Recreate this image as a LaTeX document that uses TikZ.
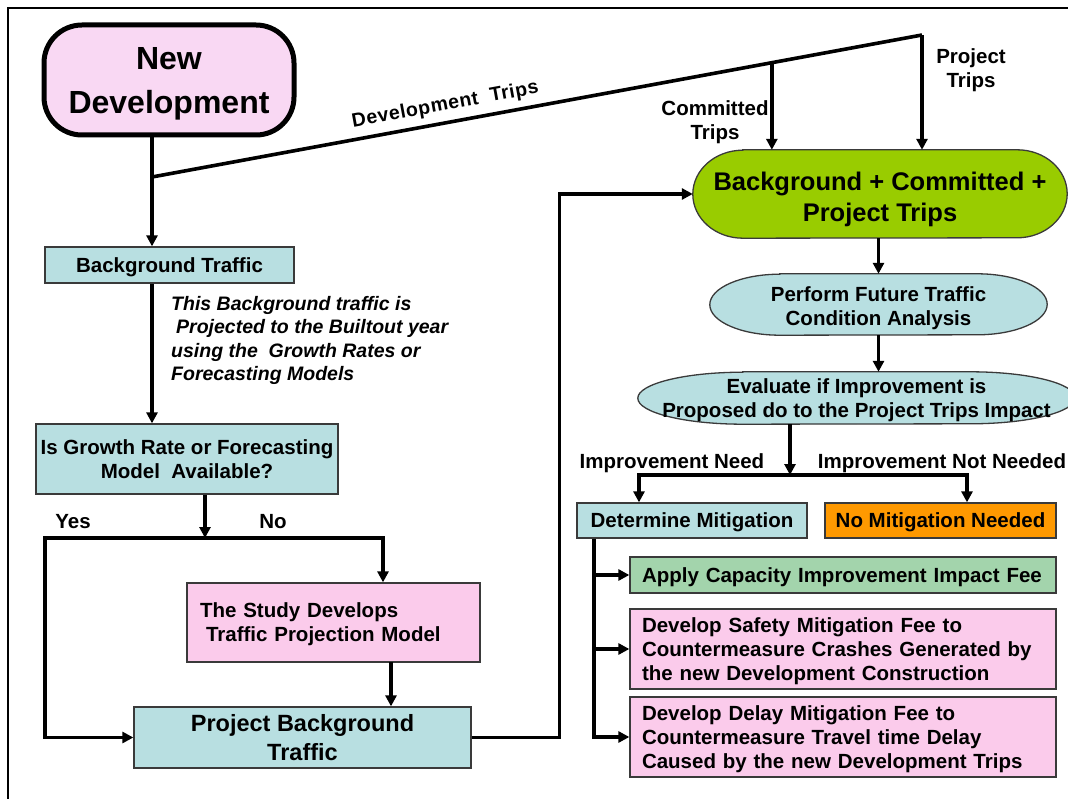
\documentclass[tikz,border=0pt]{standalone}
\usepackage{fontspec}
\setmainfont{Liberation Sans}
\usetikzlibrary{arrows.meta,calc}
\pgfdeclarelayer{bg}
\pgfsetlayers{bg,main}
\definecolor{tealf}{HTML}{B8DFE1}
\definecolor{pinkn}{HTML}{F9D8F3}
\definecolor{pinkb}{HTML}{FBCBEB}
\definecolor{greena}{HTML}{A3D4AC}
\definecolor{greenn}{HTML}{99CC00}
\definecolor{orangef}{HTML}{FF9900}
\definecolor{edge}{HTML}{3A3A3A}
\tikzset{
  one/.style={text height=19.8pt, text depth=5.1pt},
  two/.style={text height=43.8pt, text depth=5.1pt},
  twow/.style={text height=19.8pt, text depth=29.1pt},
  threew/.style={text height=19.8pt, text depth=53.1pt},
  txt/.style={font=\bfseries\fontsize{20.5}{24}\selectfont},
  rbox/.style={txt, draw=edge, line width=1.3pt, inner sep=0pt, align=center},
  lbox/.style={rbox, align=left, inner xsep=12pt, text width=402pt},
  plain/.style={txt, inner sep=0pt, align=center},
  shapeline/.style={draw=edge, line width=1.3pt},
  conn/.style={line width=3.6pt},
  arr/.style={conn, -{Triangle[length=11pt,width=11pt]}},
}
\begin{document}
\begin{tikzpicture}[x=1pt,y=-1pt]
\useasboundingbox (0,0) rectangle (1068,799);
% frame
\draw[line width=2pt] (8,799) -- (8,8) -- (1068,8);

% ---- nodes
\node[rbox, fill=pinkn, draw=black, line width=5pt, rounded corners=38pt,
      minimum width=250pt, minimum height=110pt, text height=74.9pt, text depth=8pt,
      font=\bfseries\fontsize{32}{44}\selectfont] (nd) at (169,80) {New\\Development};
\node[rbox, one, fill=tealf, minimum width=249pt, minimum height=36pt] (bt) at (169.5,265) {Background Traffic};
\node[anchor=north west, inner sep=0pt, align=left, text height=88.7pt, text depth=4.9pt,
      font=\bfseries\itshape\fontsize{19.5}{23.3}\selectfont] (note) at (171,291.5)
  {This Background traffic is\\\hspace{5pt}Projected to the Builtout year\\using the\ \ Growth Rates or\\Forecasting Models};
\node[rbox, two, fill=tealf, minimum width=302pt, minimum height=70pt] (ig) at (187,459) {Is Growth Rate or Forecasting\\Model\ \ Available?};
\node[rbox, twow, fill=pinkb, minimum height=79pt, align=left, inner xsep=13pt, text width=267pt] (study) at (333.5,622.5)
  {The Study Develops\\\hspace{6pt}Traffic Projection Model};
\node[rbox, fill=tealf, minimum width=337pt, minimum height=61pt, text height=51.7pt, text depth=5.9pt,
      font=\bfseries\fontsize{23.5}{29}\selectfont] (pbt) at (302.5,737.5) {Project Background\\Traffic};
\node[plain, one] (yes) at (73,521) {Yes};
\node[plain, one] (no) at (273,521) {No};

\node[plain, minimum width=374pt, minimum height=88pt, text height=60.6pt, text depth=6.4pt,
      font=\bfseries\fontsize{25.5}{31}\selectfont] (green) at (880,194) {Background + Committed +\\Project Trips};
\node[plain, minimum width=337pt, minimum height=61pt, text height=46.8pt, text depth=5.1pt] (perf) at (878.5,304.5) {Perform Future Traffic\\Condition Analysis};
\node[plain, two, minimum width=437pt, minimum height=52pt] (eval) at (856.5,398) {Evaluate if Improvement is\\Proposed do to the Project Trips Impact};
\node[plain, one] (ineed) at (672,461) {Improvement Need};
\node[plain, one] (inot) at (942,461) {Improvement Not Needed};
\node[rbox, one, fill=tealf, minimum width=230pt, minimum height=35pt] (dm) at (692,520.5) {Determine Mitigation};
\node[rbox, one, fill=orangef, minimum width=231pt, minimum height=35pt] (nm) at (940.5,520.5) {No Mitigation Needed};
\node[lbox, one, fill=greena, minimum height=36pt] (apply) at (843,575) {Apply Capacity Improvement Impact Fee};
\node[lbox, threew, fill=pinkb, minimum height=80pt] (safety) at (843,649) {Develop Safety Mitigation Fee to\\Countermeasure Crashes Generated by\\the new Development Construction};
\node[lbox, threew, fill=pinkb, minimum height=80pt] (delay) at (843,737) {Develop Delay Mitigation Fee to\\Countermeasure Travel time Delay\\Caused by the new Development Trips};
\node[plain, two] (ctl) at (715,120) {Committed\\Trips};
\node[plain, two] (ptl) at (971,68.5) {Project\\Trips};

% ---- stadium shapes
\begin{pgfonlayer}{bg}
\draw[shapeline, fill=greenn] ([xshift=50pt]green.north west) -- ([xshift=-50pt]green.north east)
  arc[start angle=90,end angle=-90,x radius=50pt,y radius=44pt]
  -- ([xshift=50pt]green.south west)
  arc[start angle=270,end angle=90,x radius=50pt,y radius=44pt] -- cycle;
\draw[shapeline, fill=tealf] ([xshift=70pt]perf.north west) -- ([xshift=-70pt]perf.north east)
  arc[start angle=90,end angle=-90,x radius=70pt,y radius=30.5pt]
  -- ([xshift=70pt]perf.south west)
  arc[start angle=270,end angle=90,x radius=70pt,y radius=30.5pt] -- cycle;
\draw[shapeline, fill=tealf] ([xshift=105pt]eval.north west) -- ([xshift=-105pt]eval.north east)
  arc[start angle=90,end angle=-90,x radius=105pt,y radius=26pt]
  -- ([xshift=105pt]eval.south west)
  arc[start angle=270,end angle=90,x radius=105pt,y radius=26pt] -- cycle;
\end{pgfonlayer}

% ---- coordinates
\coordinate (j1) at (152,177);
\coordinate (pt) at (922,35);
\coordinate (ct) at ($(j1)!0.805!(pt)$);
\coordinate (j2) at (205,538);
\coordinate (yl) at (45,538);
\coordinate (nr) at (383,538);
\coordinate (sx) at (391,662);
\coordinate (j3) at (790,475);
\coordinate (jl) at (639,475);
\coordinate (jr) at (967,475);
\coordinate (dmx) at (594,538);

% ---- connectors
\draw[arr] (nd.south -| j1) -- (j1 |- bt.north);
\draw[conn, line join=miter] (j1) -- node[pos=0.385, sloped, above=6.5pt, inner sep=0pt,
   font=\bfseries\fontsize{19.5}{22}\selectfont\addfontfeature{LetterSpace=3}] (dtl) {Development\ \ Trips} (pt);
\draw[arr] (pt) -- (pt |- green.north);
\draw[arr] (ct) -- (ct |- green.north);
\draw[arr] (bt.south -| j1) -- (j1 |- ig.north);
\draw[arr] (ig.south -| j2) -- (j2);
\draw[arr] (j2) -- (yl) |- (pbt.west);
\draw[arr] (j2) -- (nr) -- (nr |- study.north);
\draw[arr] (sx) -- (sx |- pbt.north);
\draw[arr] (pbt.east) -- ++(88,0) |- (green.west);
\draw[arr] (green.south -| perf.north) -- (perf.north);
\draw[arr] (perf.south) -- (perf.south |- eval.north);
\draw[arr] (eval.south -| j3) -- (j3);
\draw[arr] (j3) -- (jl) -- (jl |- dm.north);
\draw[arr] (j3) -- (jr) -- (jr |- nm.north);
\draw[arr] (dm.south -| dmx) |- (delay.west);
\draw[arr] (dmx |- apply.west) -- (apply.west);
\draw[arr] (dmx |- safety.west) -- (safety.west);
\end{tikzpicture}
\end{document}
